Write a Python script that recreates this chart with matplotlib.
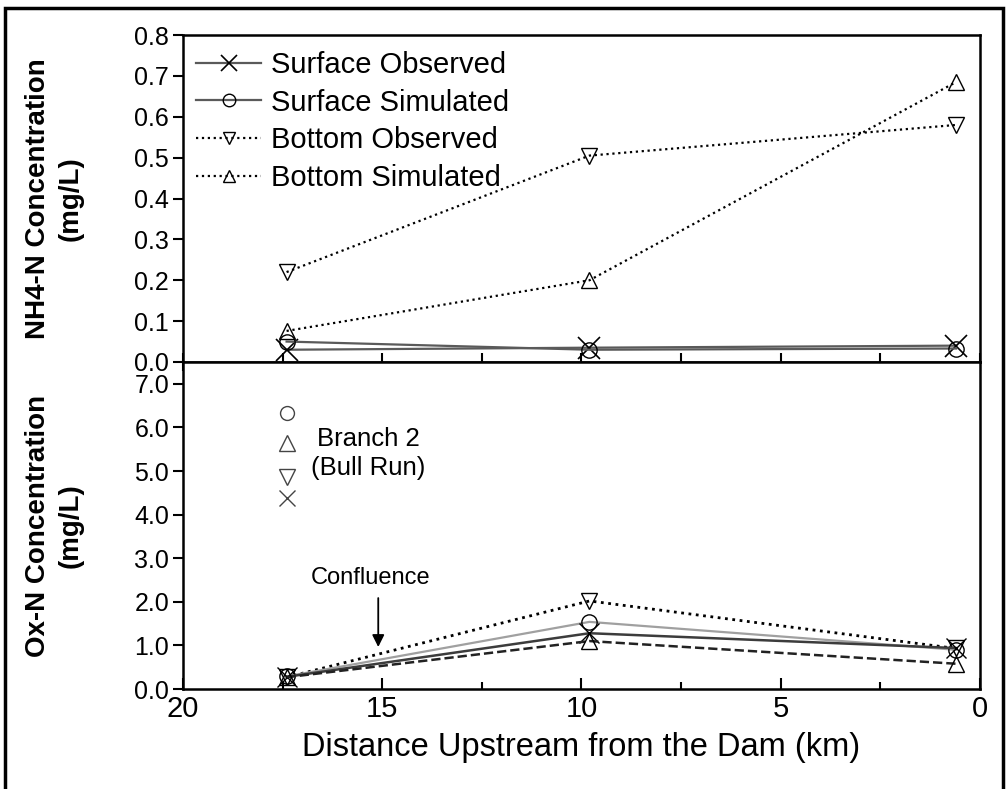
import matplotlib
matplotlib.use('Agg')
import matplotlib.pyplot as plt
from matplotlib import font_manager
from matplotlib.ticker import MultipleLocator, FormatStrFormatter
from matplotlib.patches import Rectangle

# distance upstream (km) of the three stations
dist = [17.4, 9.8, 0.6]

# NH4-N (mg/L)
nh4_surf_obs = [0.03, 0.035, 0.04]
nh4_surf_sim = [0.05, 0.03, 0.033]
nh4_bot_obs = [0.22, 0.505, 0.58]
nh4_bot_sim = [0.076, 0.2, 0.685]

# Ox-N (mg/L)
ox_surf_obs = [0.28, 1.28, 0.94]
ox_surf_sim = [0.29, 1.54, 0.9]
ox_bot_obs = [0.27, 2.02, 0.93]
ox_bot_sim = [0.27, 1.1, 0.58]

# Branch 2 (Bull Run) points
branch_x = 17.4
branch_sim_surf = 6.33
branch_sim_bot = 5.64
branch_obs_bot = 4.86
branch_obs_surf = 4.38

names = [f.name for f in font_manager.fontManager.ttflist]
base = 'Liberation Sans' if 'Liberation Sans' in names else 'DejaVu Sans'
narrow = 'Liberation Sans Narrow' if 'Liberation Sans Narrow' in names else base
plt.rcParams['font.family'] = [base, 'DejaVu Sans']

fig = plt.figure(figsize=(10.07, 7.89), dpi=100)
L, R = 0.1817, 0.9732
ax1 = fig.add_axes([L, 0.5412, R - L, 0.9556 - 0.5412])
ax2 = fig.add_axes([L, 0.1267, R - L, 0.5412 - 0.1267], sharex=ax1)

mk = dict(markersize=11, markerfacecolor='none', markeredgecolor='black', markeredgewidth=1.0)
grey = '#5a5a5a'

ax1.plot(dist, nh4_surf_obs, '-', color=grey, lw=1.6, marker='x', label='Surface Observed',
         markersize=16, markeredgecolor='black', markeredgewidth=1.2)
ax1.plot(dist, nh4_surf_sim, '-', color=grey, lw=1.6, marker='o', label='Surface Simulated', **mk)
ax1.plot(dist, nh4_bot_obs, ':', color='black', lw=1.6, marker='v', label='Bottom Observed', **mk)
ax1.plot(dist, nh4_bot_sim, ':', color='black', lw=1.6, marker='^', label='Bottom Simulated', **mk)

leg = ax1.legend(loc='upper left', frameon=False, fontsize=21, handlelength=2.2,
                 handletextpad=0.35, labelspacing=0.33, borderaxespad=0.2,
                 bbox_to_anchor=(-0.005, 1.005))
for h in leg.legend_handles:
    h.set_markersize(9 if h.get_marker() != 'x' else 12)

ax2.plot(dist, ox_bot_obs, ':', color='black', lw=2.0, marker='v', **mk)
ax2.plot(dist, ox_surf_sim, '-', color='#a0a0a0', lw=1.6, marker='o', **mk)
ax2.plot(dist, ox_surf_obs, '-', color='#3c3c3c', lw=1.8, marker='x',
         markersize=14, markeredgecolor='black', markeredgewidth=1.0)
ax2.plot(dist, ox_bot_sim, '--', color='#222222', lw=1.8, marker='^', **mk)

ax2.plot([branch_x], [branch_sim_surf], marker='o', color='#444444', markersize=10,
         markerfacecolor='none', markeredgewidth=1.0, ls='none')
ax2.plot([branch_x], [branch_sim_bot], marker='^', color='#444444', markersize=11,
         markerfacecolor='none', markeredgewidth=1.0, ls='none')
ax2.plot([branch_x], [branch_obs_bot], marker='v', color='#444444', markersize=11,
         markerfacecolor='none', markeredgewidth=1.0, ls='none')
ax2.plot([branch_x], [branch_obs_surf], marker='x', color='#444444', markersize=11,
         markeredgewidth=1.0, ls='none')
ax2.text(15.35, 5.4, 'Branch 2\n(Bull Run)', ha='center', va='center', fontsize=18.5,
         linespacing=1.3)

ax2.text(15.3, 2.55, 'Confluence', ha='center', va='center', fontsize=17)
ax2.annotate('', xy=(15.1, 0.9), xytext=(15.1, 2.15),
             arrowprops=dict(arrowstyle='-|>', color='black', lw=1.3, mutation_scale=18))

ax1.set_xlim(20, 0)
ax1.set_ylim(0, 0.8)
ax2.set_ylim(0, 7.5)

ax1.yaxis.set_major_locator(MultipleLocator(0.1))
ax1.yaxis.set_major_formatter(FormatStrFormatter('%.1f'))
ax2.yaxis.set_major_formatter(FormatStrFormatter('%.1f'))
ax2.set_yticks([0, 1, 2, 3, 4, 5, 6, 7])
ax2.xaxis.set_major_locator(MultipleLocator(5))
ax2.xaxis.set_minor_locator(MultipleLocator(2.5))

for ax in (ax1, ax2):
    for s in ax.spines.values():
        s.set_linewidth(1.8)
    ax.tick_params(axis='y', direction='out', length=7, width=1.5, labelsize=18, pad=3)

ax1.tick_params(axis='x', which='both', direction='inout', length=13, width=1.5,
                labelbottom=False)
ax2.tick_params(axis='x', which='major', direction='in', length=8, width=1.5,
                labelsize=21, pad=4)
ax2.tick_params(axis='x', which='minor', direction='in', length=5, width=1.5)

ax2.set_xlabel('Distance Upstream from the Dam (km)', fontsize=23.5, labelpad=7)
ax1.set_ylabel('NH4-N Concentration\n(mg/L)', fontsize=20, fontweight='bold',
               family=[narrow, 'DejaVu Sans'], linespacing=1.3)
ax2.set_ylabel('Ox-N Concentration\n(mg/L)', fontsize=20, fontweight='bold',
               family=[narrow, 'DejaVu Sans'], linespacing=1.3)
ax1.yaxis.set_label_coords(-0.125, 0.5)
ax2.yaxis.set_label_coords(-0.125, 0.5)

fig.patches.append(Rectangle((0.005, -0.01), 0.991, 1.0, transform=fig.transFigure,
                             fill=False, edgecolor='black', lw=2.5))

fig.savefig('out.png', dpi=100)
